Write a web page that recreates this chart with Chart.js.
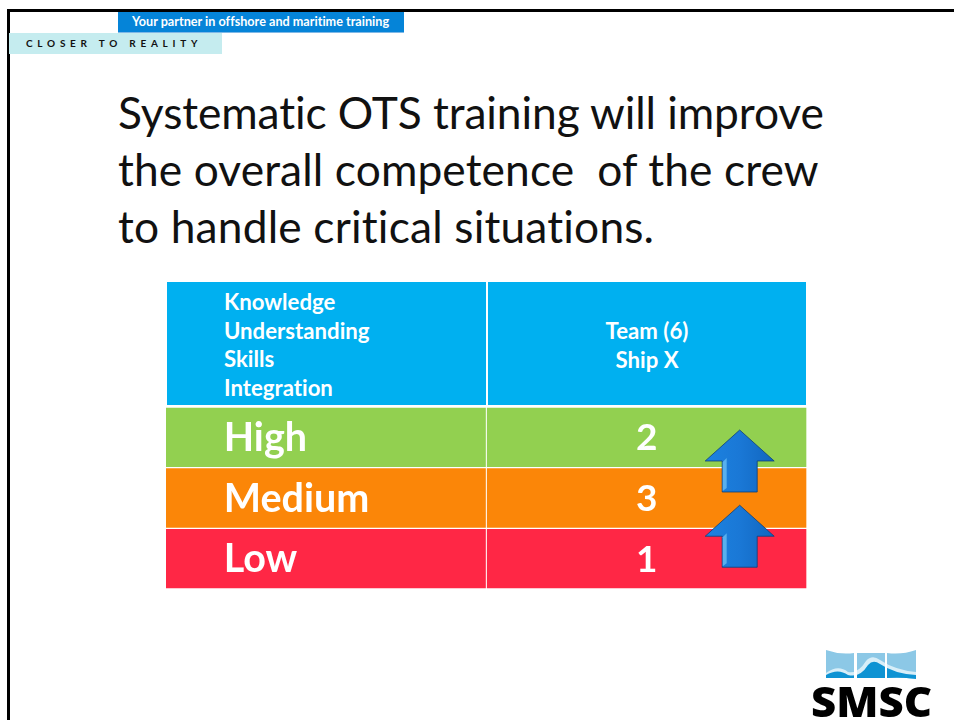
<!DOCTYPE html>
<html><head><meta charset="utf-8">
<script src="https://cdn.jsdelivr.net/npm/chart.js@4"></script>
<style>
html,body{margin:0;padding:0;background:#fff;width:954px;height:720px;overflow:hidden;font-family:Lato,"Noto Sans",sans-serif}
*{font-variant-ligatures:none!important}
.a{position:absolute;white-space:nowrap}
#chart{position:absolute;left:0;top:0}
</style></head><body>
<div class="a" style="left:7px;top:9px;width:947px;height:2.5px;background:#000"></div>
<div class="a" style="left:7px;top:9px;width:2.5px;height:711px;background:#000"></div>
<div class="a" style="left:118px;top:12px;width:286px;height:21px;background:#0584d8;border-bottom:1px solid #7fb8e6;box-sizing:border-box"></div>
<div class="a" style="left:132px;top:14px;font:bold 12.65px/15px Lato;color:#fff">Your partner in offshore and maritime training</div>
<div class="a" style="left:9px;top:33px;width:213px;height:21px;background:#c5ecef"></div>
<div class="a" style="left:26px;top:36px;font:bold 10px/15px Lato;letter-spacing:4.75px;color:#111">CLOSER TO REALITY</div>
<div class="a" id="title" style="left:118px;top:83px;font:44.3px/57px Lato;color:#111"><span style="letter-spacing:-.09px">Systematic OTS training will improve</span><br><span style="letter-spacing:.11px">the overall competence&nbsp; of the crew</span><br><span style="letter-spacing:.17px">to handle critical situations.</span></div>
<div class="a" style="left:167px;top:282px;width:319px;height:123px;background:#00b0f0"></div>
<div class="a" style="left:488px;top:282px;width:318px;height:123px;background:#00b0f0"></div>
<div class="a" style="left:224px;top:288px;font:bold 22.2px/28.7px Lato;color:#fff">Knowledge<br>Understanding<br>Skills<br>Integration</div>
<div class="a" style="left:488px;width:318px;top:317px;text-align:center;font:bold 22.2px/28.7px Lato;color:#fff">Team (6)<br>Ship X</div>
<canvas id="chart" width="954" height="720"></canvas>
<svg class="a" style="left:0;top:0" width="954" height="720">
<defs><clipPath id="p"><path d="M826 650 Q840 655 854 653 V678 Q840 678 826 678Z M857 653 H885 V678 H857Z M887 653 Q902 655 916 650 V679 Q902 677 887 678Z"/></clipPath></defs>
<g clip-path="url(#p)">
<rect x="820" y="645" width="100" height="40" fill="#8cc8e6"/>
<path d="M826 673 Q838 664 848 672 Q858 674 866 661 Q872 654 880 660 Q895 670 916 672 V680 H826Z" fill="#d8eef8"/>
<path d="M826 675 Q838 668 848 675 Q860 678 868 665 Q873 659 880 664 Q895 674 916 675 V680 H826Z" fill="#0e93d3"/>
</g>
<text x="811" y="717" font-family="Open Sans" font-weight="800" font-size="42" fill="#000" textLength="121" lengthAdjust="spacingAndGlyphs">SMSC</text>
</svg>
<script>
const rowLabels = ["High", "Medium", "Low"];
const teamCounts = [2, 3, 1];
const rowColors = ["#92d050", "#fb8608", "#ff2745"];
const columnSpan = [1, 1, 1];
const labelX = 0.18;
const arrowX = [1.79, 1.79];
const arrowY = [0.39, 1.63];

const tableText = {
  id: "tableText",
  afterDatasetsDraw(c) {
    const g = c.ctx, x = c.scales.x, y = c.scales.y;
    g.save();
    g.fillStyle = "#fff"; g.textBaseline = "middle";
    g.font = "bold 39.5px Lato";
    g.textAlign = "left";
    rowLabels.forEach((t, i) => g.fillText(t, x.getPixelForValue(labelX), y.getPixelForValue(i) + 1));
    g.font = "bold 37px Lato";
    g.textAlign = "center";
    teamCounts.forEach((v, i) => g.fillText(String(v), x.getPixelForValue(1.5), y.getPixelForValue(i) + 1));
    g.restore();
    arrowY.forEach((v, i) => drawArrow(g, x.getPixelForValue(arrowX[i]), y.getPixelForValue(v)));
  }
};
function drawArrow(g, cx, cy) {
  const outline = () => {
    g.beginPath();
    g.moveTo(cx, cy - 31); g.lineTo(cx + 34.5, cy); g.lineTo(cx + 17.5, cy);
    g.lineTo(cx + 17.5, cy + 31); g.lineTo(cx - 17.5, cy + 31); g.lineTo(cx - 17.5, cy);
    g.lineTo(cx - 34.5, cy); g.closePath();
  };
  g.save();
  const v = g.createLinearGradient(cx - 34, 0, cx + 34, 0);
  v.addColorStop(0, "#1c82e0"); v.addColorStop(0.5, "#1a78d6"); v.addColorStop(1, "#1166bf");
  outline(); g.fillStyle = v; g.fill();
  g.strokeStyle = "rgba(14,62,120,0.8)"; g.lineWidth = 1; g.stroke();
  g.fillStyle = "#58b0ee";
  g.beginPath(); g.moveTo(cx - 17, cy + 1); g.lineTo(cx - 13, cy - 3); g.lineTo(cx - 13, cy + 27); g.lineTo(cx - 17, cy + 30); g.closePath(); g.fill();
  g.restore();
}
new Chart(document.getElementById("chart"), {
  type: "bar",
  data: {
    labels: rowLabels,
    datasets: [
      { label: "Level", data: columnSpan, backgroundColor: rowColors, borderColor: "#fff", borderWidth: 1, barPercentage: 1, categoryPercentage: 1, stack: "s" },
      { label: "Team (6) Ship X", data: columnSpan, backgroundColor: rowColors, borderColor: "#fff", borderWidth: 1, barPercentage: 1, categoryPercentage: 1, stack: "s" }
    ]
  },
  options: {
    indexAxis: "y", responsive: false, animation: false, devicePixelRatio: 1,
    layout: { padding: { left: 166, right: 147, top: 407, bottom: 131 } },
    plugins: { legend: { display: false }, tooltip: { enabled: false }, title: { display: false } },
    scales: {
      x: { display: false, stacked: true, min: 0, max: 2 },
      y: { display: false, stacked: true }
    }
  },
  plugins: [tableText]
});
</script>
</body></html>
